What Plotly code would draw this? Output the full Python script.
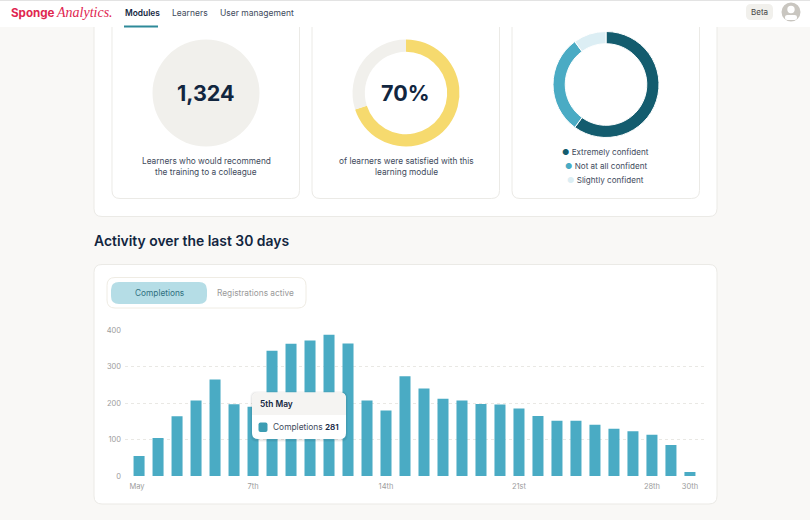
import plotly.graph_objects as go

W, H = 810, 520

# ---- data ----
day_numbers = list(range(1, 31))
completions = [55, 104, 164, 207, 265, 197, 190, 344, 363, 372, 388, 364, 207, 180, 274,
               240, 212, 207, 198, 196, 185, 165, 152, 152, 141, 130, 123, 113, 85, 11]
x_tick_days = [1, 7, 14, 21, 28, 30]
x_tick_labels = ["May\u00a0\u00a0", "7th", "14th", "21st", "28th", "30th"]
y_ticks = [0, 100, 200, 300, 400]

recommend_value = [1324]
satisfaction_labels = ["Satisfied", "Not satisfied"]
satisfaction_values = [70, 30]
confidence_labels = ["Extremely confident", "Not at all confident", "Slightly confident"]
confidence_values = [60, 30, 10]

tooltip_title = "5th May"
tooltip_label = "Completions"
tooltip_value = 281

# ---- palette ----
INK = "#12263F"
BODY = "#3E4A5C"
TEAL = "#4AABC4"
DARK = "#145C6E"
LIGHT = "#DCEEF4"
YELLOW = "#F6DA6E"
STONE = "#F1F0EC"
EDGE = "#EBEAE6"
FONT = "Inter"


def px(x):
    return x / W


def py(y):
    return 1 - y / H


def rrect(x0, y0, x1, y1, r, fill, line=None, lw=1, layer="below", opacity=None, corners="all"):
    tl = tr = br = bl = r
    if corners == "top":
        br = bl = 0
    if corners == "bottom":
        tl = tr = 0
    def p(x, y):
        return f"{px(x):.5f},{py(y):.5f}"
    path = (
        f"M{p(x0 + tl, y0)} L{p(x1 - tr, y0)} Q{p(x1, y0)} {p(x1, y0 + tr)} "
        f"L{p(x1, y1 - br)} Q{p(x1, y1)} {p(x1 - br, y1)} "
        f"L{p(x0 + bl, y1)} Q{p(x0, y1)} {p(x0, y1 - bl)} "
        f"L{p(x0, y0 + tl)} Q{p(x0, y0)} {p(x0 + tl, y0)} Z"
    )
    s = dict(type="path", xref="paper", yref="paper", path=path, fillcolor=fill, layer=layer,
             line=dict(color=line or fill, width=lw if line else 0))
    if opacity is not None:
        s["opacity"] = opacity
    return s


def circle(cx, cy, r, fill, layer="above"):
    return dict(type="circle", xref="paper", yref="paper", x0=px(cx - r), x1=px(cx + r),
                y0=py(cy + r), y1=py(cy - r), fillcolor=fill, line=dict(width=0), layer=layer)


def label(text, x, y, size=9, color=BODY, anchor="center", weight=400, family=FONT):
    return dict(text=text, x=px(x), y=py(y), xref="paper", yref="paper", showarrow=False,
                xanchor=anchor, yanchor="middle", borderpad=0,
                font=dict(size=size, color=color, family=family, weight=weight))


def domain(cx, cy, r):
    return dict(x=[px(cx - r), px(cx + r)], y=[py(cy + r), py(cy - r)])


fig = go.Figure()

fig.add_trace(go.Bar(x=day_numbers, y=completions, marker=dict(color=TEAL, line=dict(width=0)),
                     width=0.58, hoverinfo="skip", showlegend=False))

fig.add_trace(go.Pie(values=recommend_value, labels=["Recommend"], domain=domain(206, 93, 53.5),
                     marker=dict(colors=[STONE]), textinfo="none", hoverinfo="skip",
                     showlegend=False, sort=False))
fig.add_trace(go.Pie(values=satisfaction_values, labels=satisfaction_labels, domain=domain(406, 93, 53.5),
                     hole=0.77, marker=dict(colors=[YELLOW, STONE]), textinfo="none",
                     hoverinfo="skip", showlegend=False, sort=False, direction="clockwise", rotation=0))
fig.add_trace(go.Pie(values=confidence_values, labels=confidence_labels, domain=domain(606, 84.5, 53),
                     hole=0.77, marker=dict(colors=[DARK, TEAL, LIGHT], line=dict(color="white", width=1)),
                     textinfo="none", hoverinfo="skip", showlegend=False, sort=False,
                     direction="clockwise", rotation=0))

shapes = [
    # top panel and its three cards
    rrect(94, 10, 717, 216.5, 8, "white", EDGE),
    rrect(112, 10, 299.5, 198.5, 8, "white", EDGE),
    rrect(312, 10, 499.5, 198.5, 8, "white", EDGE),
    rrect(512, 10, 699.5, 198.5, 8, "white", EDGE),
    # header
    dict(type="rect", xref="paper", yref="paper", x0=0, x1=1, y0=py(27), y1=1,
         fillcolor="white", line=dict(width=0), layer="below"),
    dict(type="rect", xref="paper", yref="paper", x0=0, x1=1, y0=py(1), y1=1,
         fillcolor="#E3E3E3", line=dict(width=0), layer="below"),
    dict(type="rect", xref="paper", yref="paper", x0=px(124), x1=px(158), y0=py(27.5), y1=py(25.5),
         fillcolor="#2E8A99", line=dict(width=0), layer="below"),
    rrect(746, 4, 773, 20, 5, STONE),
    # chart panel and tabs
    rrect(94, 264.5, 717, 504, 8, "white", EDGE),
    rrect(107, 277.5, 306, 308, 8, "white", "#EFECE4"),
    rrect(111, 282, 207, 304, 8, "#B5DDE6"),
    # avatar
    circle(791, 12, 9.5, "#C9C6C0"),
    circle(791, 9.5, 3.7, "white"),
    # tooltip
    rrect(250, 391, 348, 442, 7, "#000000", layer="above", opacity=0.03),
    rrect(251, 392, 347, 441, 6, "#000000", layer="above", opacity=0.05),
    rrect(252, 392.5, 346, 439, 6, "white", layer="above"),
    rrect(252, 392.5, 346, 415, 6, "#F5F4F2", layer="above", corners="top"),
    rrect(258.5, 422.5, 267.5, 432, 2, "#3C9DB3", layer="above"),
]
# avatar body
shapes.append(rrect(785, 15, 797, 20, 2.5, "white", layer="above"))

annotations = [
    label("<b>Sponge</b>", 9.5, 12.5, size=11.6, color="#E0264F", anchor="left", family="Inter"),
    label("<i>Analytics.</i>", 55, 12, size=14, color="#E0264F", anchor="left", family="Liberation Serif"),
    label("Modules", 123.5, 13, size=8.4, color=INK, anchor="left", weight=600),
    label("Learners", 171, 13, size=8.5, color=BODY, anchor="left"),
    label("User management", 218.5, 13, size=8.5, color=BODY, anchor="left"),
    label("Beta", 759.5, 12, size=8, color="#444444"),
    label(f"{recommend_value[0]:,}", 205.5, 92.5, size=21.5, color=INK, weight=700),
    label(f"{satisfaction_values[0]}%", 405.5, 92.5, size=21.5, color=INK, weight=700),
    label("Learners who would recommend", 206, 160.5, size=8.3),
    label("the training to a colleague", 206, 172.5, size=8.3),
    label("of learners were satisfied with this", 406, 160.5, size=8.3),
    label("learning module", 406, 172.5, size=8.3),
    label(f'<span style="color:{DARK}">●</span> {confidence_labels[0]}', 605.5, 152, size=8.1),
    label(f'<span style="color:{TEAL}">●</span> {confidence_labels[1]}', 605.5, 166, size=8.1),
    label(f'<span style="color:{LIGHT}">●</span> {confidence_labels[2]}', 605.5, 180, size=8.1),
    label("Activity over the last 30 days", 93.3, 240.5, size=13.9, color=INK, anchor="left", weight=600),
    label("Completions", 159, 292.5, size=8.3, color="#2F6F7E"),
    label("Registrations active", 255, 292.5, size=8.3, color="#9A9A9A"),
    label(tooltip_title, 258.5, 404, size=8.4, color=INK, anchor="left", weight=600),
    label(tooltip_label, 272, 427, size=8.4, color=BODY, anchor="left"),
    label(str(tooltip_value), 339.5, 427, size=8.2, color=INK, anchor="right", weight=600),
]

fig.update_layout(
    width=W, height=H, margin=dict(l=0, r=0, t=0, b=0), autosize=False,
    paper_bgcolor="#F9F8F6", plot_bgcolor="rgba(0,0,0,0)",
    font=dict(family=FONT), showlegend=False, shapes=shapes, annotations=annotations,
    xaxis=dict(domain=[px(125), px(704)], range=[0.26, 30.74], tickmode="array", automargin=False,
               tickvals=x_tick_days, ticktext=x_tick_labels, showgrid=False, zeroline=False,
               showline=False, ticks="", ticklen=0, ticklabelstandoff=4,
               tickfont=dict(size=7.5, color="#9C9C9C", family=FONT)),
    yaxis=dict(domain=[py(476), py(330.3)], range=[0, 400], tickmode="array", tickvals=y_ticks, automargin=False,
               showgrid=True, gridcolor="#E9E8E4", griddash="dot", gridwidth=1, zeroline=False,
               showline=False, ticks="", ticklen=0, ticklabelstandoff=3,
               tickfont=dict(size=7.5, color="#9C9C9C", family=FONT)),
)

fig.write_html("out.html", config=dict(displayModeBar=False, responsive=False),
               post_script="document.body.style.margin='0';document.body.style.overflow='hidden';")
